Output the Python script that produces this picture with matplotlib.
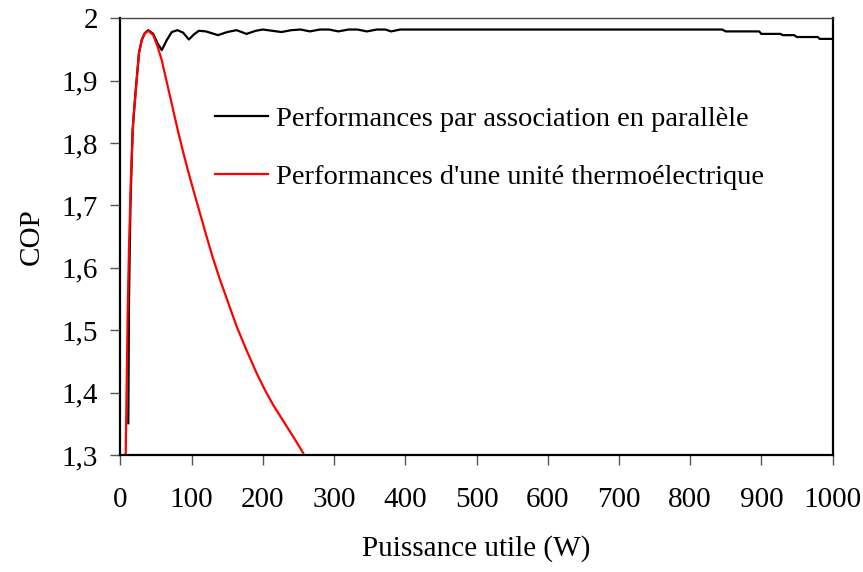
import matplotlib
matplotlib.use("Agg")
import matplotlib.pyplot as plt

plt.rcParams['font.family'] = ['Liberation Serif', 'DejaVu Serif']

# performances par association en parallele (black)
p_par = [11, 12, 14, 17, 21, 26, 30, 34, 39, 46, 52, 58, 65, 72, 80, 88, 96, 103, 110,
         120, 137, 150, 163, 177, 190, 200, 213, 226, 240, 253, 266, 280, 293, 306,
         320, 333, 346, 360, 372, 380, 393, 845, 850, 897, 900, 927, 930, 946, 950,
         979, 982, 1000]
cop_par = [1.351, 1.55, 1.70, 1.82, 1.88, 1.945, 1.966, 1.976, 1.981, 1.975, 1.960, 1.949,
           1.965, 1.978, 1.981, 1.977, 1.966, 1.974, 1.980, 1.979, 1.973, 1.978, 1.981,
           1.975, 1.980, 1.982, 1.980, 1.978, 1.981, 1.982, 1.979, 1.982, 1.982, 1.979,
           1.982, 1.982, 1.979, 1.982, 1.982, 1.979, 1.982, 1.982, 1.979, 1.979, 1.975,
           1.975, 1.973, 1.973, 1.970, 1.970, 1.967, 1.967]

# performances d'une unite thermoelectrique (red)
p_one = [7.3, 10.1, 11.9, 14.7, 18, 21.3, 26, 30, 34.4, 39, 46, 52, 57.9, 66, 74.2, 81,
         88.2, 95, 102.3, 111, 121, 130, 139.8, 151, 163.2, 177, 191.3, 203, 214.6,
         233.4, 245, 256.7]
cop_one = [1.297, 1.527, 1.629, 1.746, 1.837, 1.880, 1.944, 1.965, 1.976, 1.980, 1.973,
           1.955, 1.933, 1.893, 1.852, 1.818, 1.785, 1.755, 1.725, 1.690, 1.650, 1.615,
           1.581, 1.545, 1.506, 1.468, 1.431, 1.404, 1.380, 1.346, 1.325, 1.303]

xticks = list(range(0, 1001, 100))
yticks = [1.3, 1.4, 1.5, 1.6, 1.7, 1.8, 1.9, 2.0]
ylabels = ['1,3', '1,4', '1,5', '1,6', '1,7', '1,8', '1,9', '2']

fig = plt.figure(figsize=(8.63, 5.72), dpi=100)
ax = fig.add_axes([0.1396, 0.2045, 0.8251, 0.7635])

ax.plot(p_par, cop_par, color='black', lw=1.6, label='Performances par association en parallèle')
ax.plot(p_one, cop_one, color='#ff0000', lw=1.6, label="Performances d'une unité thermoélectrique")

ax.set_xlim(0, 1000)
ax.set_ylim(1.3, 2.0)
ax.set_xticks(xticks)
ax.set_yticks(yticks)
ax.set_yticklabels(ylabels)
ax.tick_params(axis='x', direction='out', length=7, width=1, color='#555555',
               labelsize=21, pad=16)
ax.tick_params(axis='y', direction='out', length=7, width=1, color='#555555',
               labelsize=21, pad=9)

for s in ['left', 'bottom', 'right']:
    ax.spines[s].set_linewidth(1.6)
    ax.spines[s].set_color('black')
ax.spines['top'].set_linewidth(1)
ax.spines['top'].set_color('#444444')

ax.set_xlabel('Puissance utile (W)', fontsize=21, labelpad=16)
ax.set_ylabel('COP', fontsize=21, labelpad=12)

ax.legend(loc='upper left', bbox_to_anchor=(0.1327, 0.80), frameon=False, fontsize=20.5,
          handlelength=1.85, handletextpad=0.3, labelspacing=1.15, borderpad=0,
          borderaxespad=0)

fig.savefig('out.png', dpi=100)
